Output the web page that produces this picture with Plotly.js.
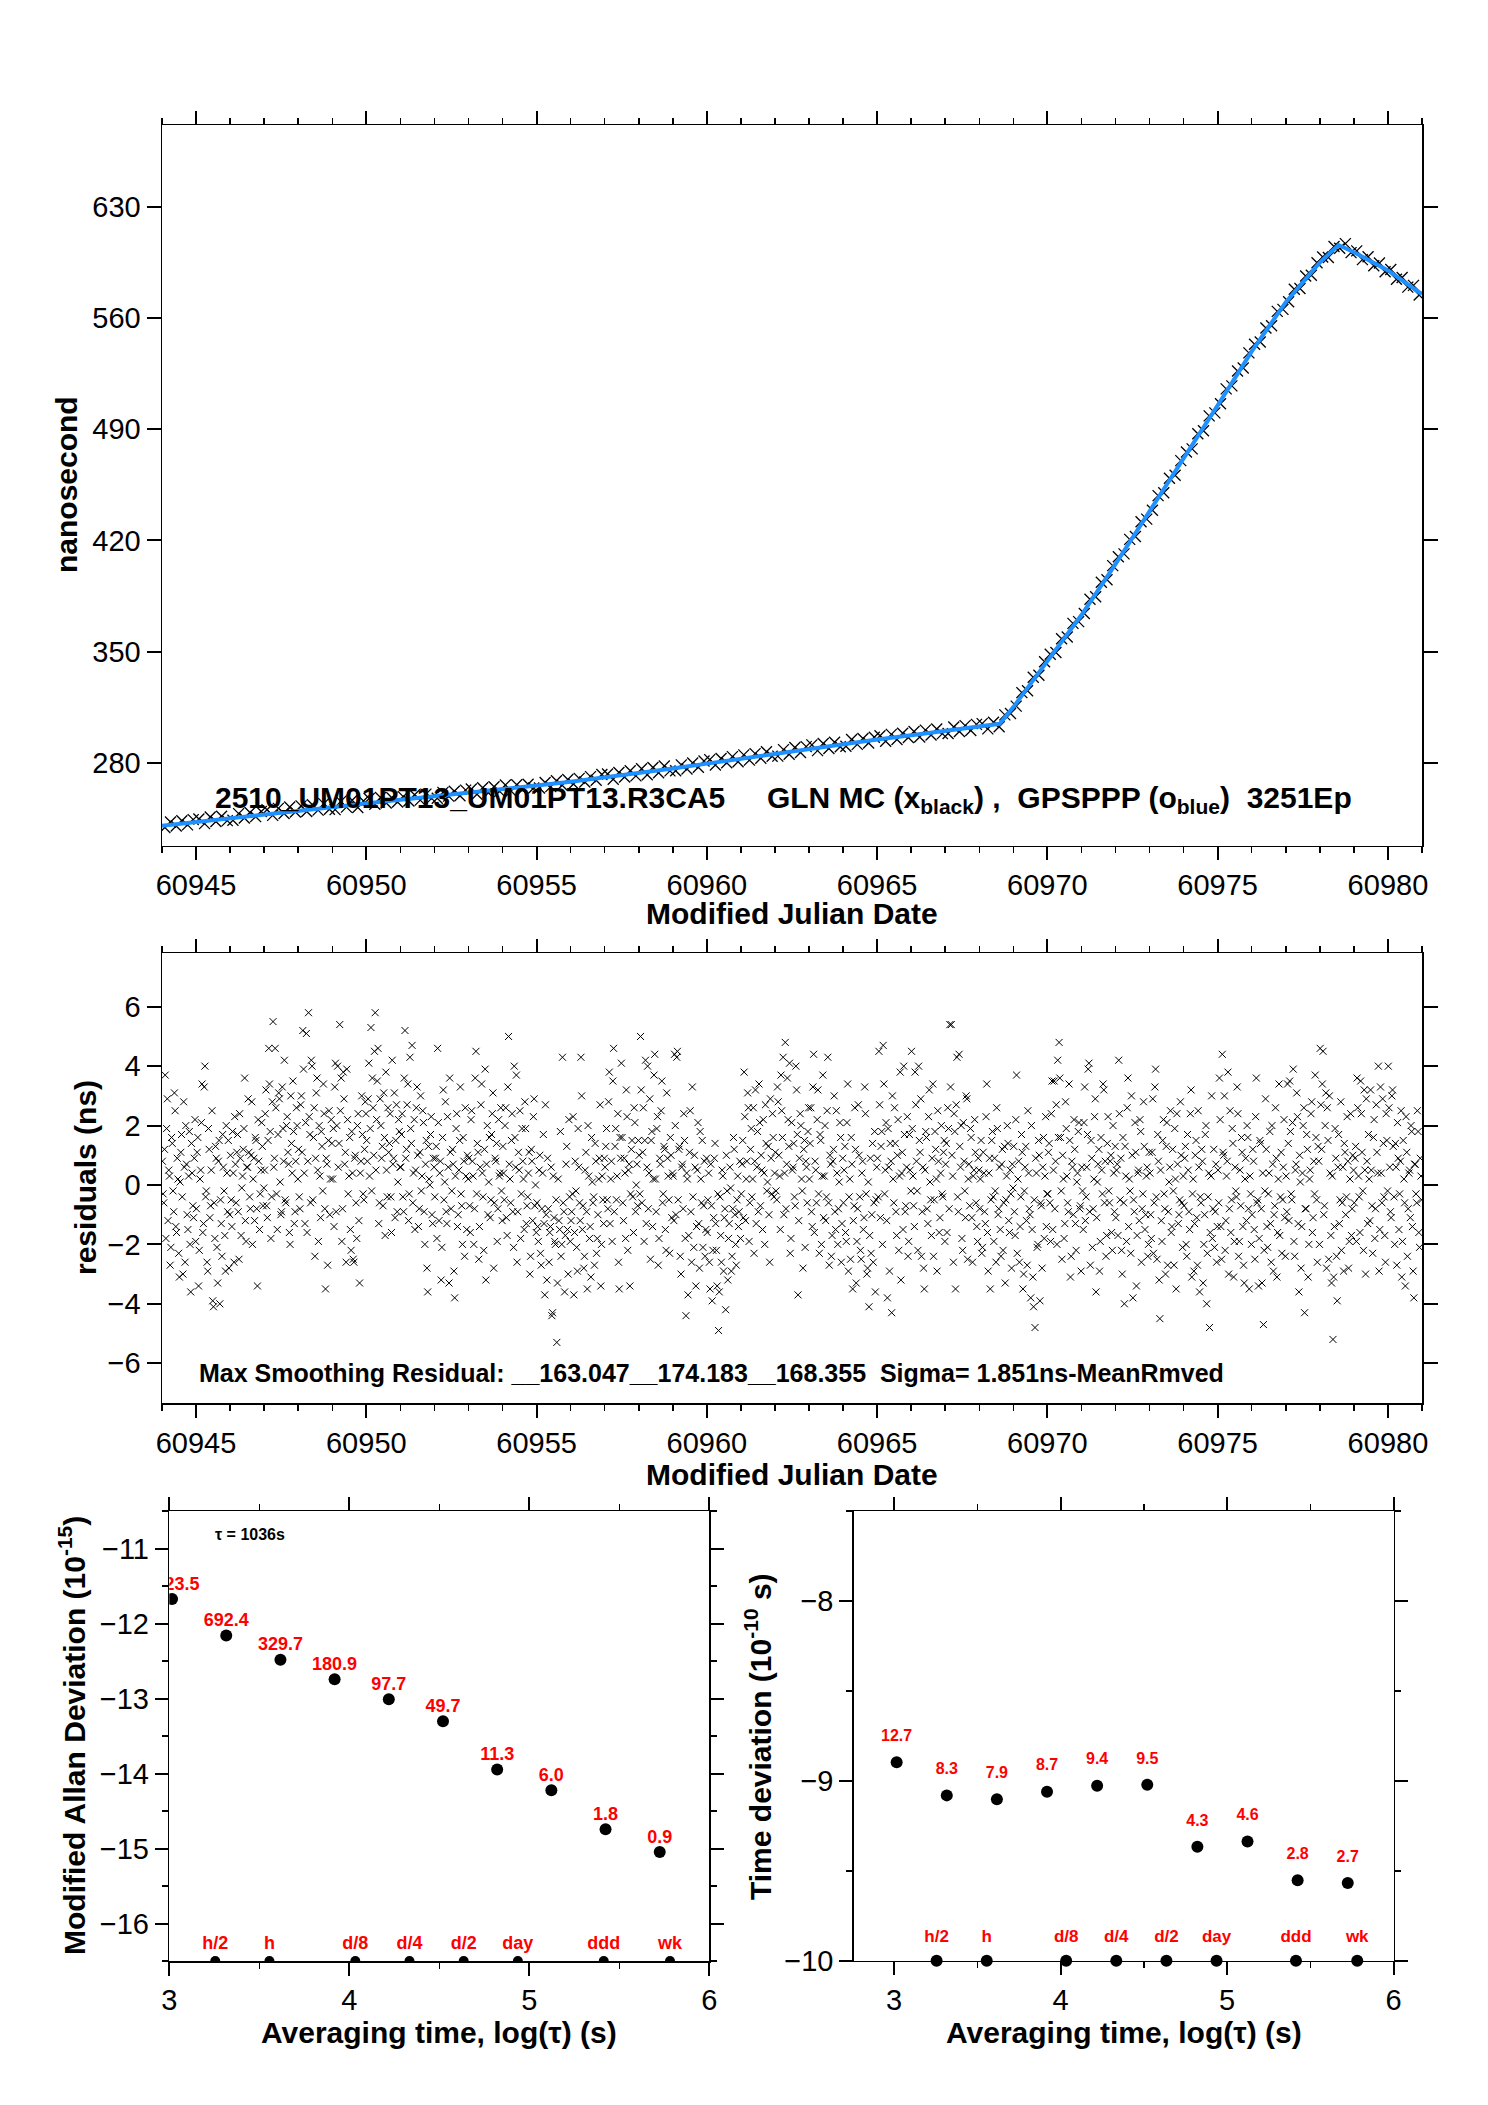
<!DOCTYPE html>
<html><head><meta charset="utf-8">
<script src="https://cdn.plot.ly/plotly-3.0.1.min.js"></script>
<style>html,body{margin:0;padding:0;background:#fff}</style>
</head><body>
<div id="plot" style="width:1488px;height:2105px"></div>
<script>
// ---------------- DATA ----------------
const mjdStart = 60944.0;
const mjdEnd = 60981.0;

// GPSPPP smoothed curve (blue)
const blueMJD = [60944,60945,60946,60947,60948,60949,60950,60951,60952,60953,60954,60955,60956,60957,60958,60959,60960,60961,60962,60963,60964,60965,60966,60967,60968,60968.6,60969,60970,60971,60972,60973,60974,60975,60976,60977,60978,60978.55,60979,60980,60981];
const blueNs = [240.3,242.7,245.2,247.7,250.1,252.3,254.5,256.7,258.9,261.0,263.2,265.6,268.0,270.6,273.3,276.3,279.4,282.5,285.6,288.7,291.8,294.6,297.3,299.9,302.6,304.5,315,344,373,405,438,471,505,539,570,595,606,601.5,590,575];

// GLN MC measurements (black x), regularly sampled, 6 per day
const topNs = [
239.2,242.6,240.1,243.4,240.8,244.1,
244.5,241.6,245.8,242.9,246.2,243.5,
243.7,247.9,245.1,248.6,246.0,249.2,
250.3,246.8,251.2,248.0,252.1,248.9,
252.8,249.2,253.5,250.1,254.2,250.7,
250.4,255.6,252.0,256.3,251.8,255.9,
257.4,253.8,258.1,254.6,257.9,255.2,
258.6,255.9,259.8,256.4,260.2,257.5,
257.6,261.3,258.9,262.0,259.2,262.7,
263.4,260.1,264.2,261.0,264.8,261.9,
265.9,262.2,266.1,262.9,266.4,264.0,
264.0,267.5,264.9,268.6,265.8,269.4,
266.6,270.1,267.8,271.2,268.9,272.5,
272.9,269.6,273.8,271.0,274.9,271.7,
276.2,272.4,277.0,273.6,277.9,274.8,
274.9,278.6,276.0,279.8,277.1,281.0,
281.9,278.5,282.6,279.9,283.8,280.6,
284.9,281.6,285.7,282.8,286.9,284.0,
284.1,288.2,285.3,289.6,286.4,290.1,
291.2,287.6,292.1,288.9,292.8,290.0,
290.3,294.6,291.5,295.2,292.4,296.0,
296.9,293.5,297.8,294.6,298.5,295.8,
299.6,296.2,300.5,297.4,301.2,298.3,
298.4,302.5,299.6,303.3,300.2,304.1,
304.6,301.3,305.5,302.6,310.1,311.0,
315.6,324.1,325.3,333.8,335.0,343.5,
348.3,349.4,358.0,359.1,367.7,368.8,
373.9,382.9,384.5,393.6,395.2,404.1,
409.7,411.5,420.6,422.4,431.7,433.4,
439.0,448.2,450.0,459.1,461.0,470.2,
475.7,477.6,487.1,489.0,498.4,500.3,
506.0,515.4,517.3,526.7,528.6,538.1,
543.5,544.9,553.8,555.2,564.2,565.5,
570.3,578.2,578.6,586.5,587.0,594.8,
598.5,598.2,605.1,604.0,606.9,601.2,
602.3,596.8,598.6,593.0,594.7,589.2,
590.6,584.5,585.6,579.5,580.6,574.5
];

// residuals (ns), first half-hour set, 24 per day
const residA = [
0.8,-0.6,3.7,1.9,-1.2,0.3,-2.1,1.4,-0.9,2.5,-1.6,0.2,-3.1,1.1,-0.4,2.8,-2.6,0.7,-1.5,1.8,-3.6,0.4,-1.1,2.2,
-0.8,1.6,-2.2,0.5,3.4,-1.3,4.0,-0.2,-2.9,1.2,-0.7,2.5,-4.1,-1.8,0.9,-3.3,1.5,-0.5,-2.4,0.6,-1.7,2.0,-0.9,-2.8,
1.0,-1.4,0.4,2.3,-0.6,1.7,-2.5,0.9,-0.1,1.2,3.6,-1.9,0.6,1.1,-0.8,2.8,0.2,-1.2,1.5,-3.4,0.8,-0.3,2.1,-0.7,
0.5,3.2,-1.1,4.6,1.8,-0.4,5.5,0.9,2.6,-1.5,3.1,0.1,-0.9,1.9,4.2,-0.6,2.3,0.7,-2.0,1.4,3.5,-1.3,0.8,2.0,
1.2,-0.8,3.0,5.2,0.4,2.1,-1.6,5.8,1.7,4.2,-0.5,2.6,0.9,3.6,-1.9,0.3,1.8,-0.2,2.4,-3.5,0.7,1.5,-1.0,2.2,
0.2,-1.4,4.1,2.0,0.6,5.4,3.6,-0.8,2.9,1.1,3.9,-0.3,1.6,-2.2,0.4,-2.6,1.0,-1.8,2.4,-3.3,0.8,1.7,-0.5,2.8,
1.5,2.9,0.3,5.3,3.6,1.0,5.8,2.2,4.6,-0.6,2.0,1.3,3.1,-1.7,0.5,2.6,1.4,-0.4,4.2,0.9,-1.1,2.7,0.1,1.8,
0.6,2.4,-0.9,5.2,1.2,3.4,-0.3,1.9,4.7,0.4,-1.5,2.6,1.0,-0.8,3.0,0.3,2.1,-2.0,1.5,-3.6,0.2,1.7,-1.0,0.9,
-0.4,1.3,4.6,-1.2,0.8,-2.1,3.2,0.1,-0.9,2.3,-3.3,1.1,-0.2,0.7,-3.8,1.9,-1.4,0.5,3.3,-0.7,1.6,-2.4,0.3,1.0,
0.9,-1.6,2.5,0.3,-0.8,4.5,1.4,-2.5,0.6,3.4,-0.4,1.2,-3.2,2.0,0.1,-1.1,1.7,3.1,-0.6,0.8,-1.9,2.2,0.4,-0.2,
1.3,-0.5,2.6,-1.7,5.0,0.2,1.5,-0.9,4.0,0.6,-2.6,1.1,2.5,-0.3,0.8,-1.5,1.9,-0.7,0.4,-3.0,1.2,-1.2,2.9,0.0,
-0.6,-1.9,1.0,-2.7,0.4,-1.3,2.7,-3.2,-0.8,-1.6,0.6,-4.3,-1.1,-2.0,-5.3,0.2,-1.5,-2.4,4.3,-0.9,-1.7,1.3,-3.0,-0.4,
-1.2,-0.3,-3.7,0.8,-2.1,1.9,-0.6,4.3,-1.5,-2.8,0.5,-0.9,2.0,-1.8,-3.1,0.1,-0.4,1.4,-2.3,-1.0,0.9,-3.4,0.3,-1.3,
0.6,1.9,-0.8,3.8,0.2,-1.9,4.6,1.3,-0.5,2.4,-3.5,0.9,1.6,-1.2,0.4,3.2,-2.2,0.7,-0.3,1.5,-1.6,2.1,0.0,-0.7,
1.0,5.0,-0.6,2.6,1.5,-1.3,4.0,0.4,-2.5,1.8,0.2,4.4,-0.9,2.3,-1.8,0.7,3.5,-0.3,1.2,-2.2,0.9,-0.5,1.6,-1.1,
0.3,4.4,-1.0,4.5,1.2,-2.4,0.6,-0.8,1.5,-4.4,0.2,-1.7,2.5,-2.6,-0.4,1.0,-3.4,0.5,-1.3,1.8,-0.6,-2.1,0.8,-1.5,
-1.6,0.4,-3.5,-0.7,-2.2,0.9,-1.3,-3.4,-4.9,-0.4,-2.6,0.3,-1.1,-4.2,-0.2,-1.8,0.6,-2.9,-0.8,1.2,-2.0,-0.5,-1.4,0.8,
-0.3,1.5,3.8,-1.2,0.8,2.6,-0.6,1.9,0.2,-2.3,3.2,0.6,-0.9,2.1,1.0,-1.5,0.4,2.7,-0.2,1.3,-2.6,0.9,2.4,-0.4,
1.1,-0.5,2.8,0.3,3.7,1.6,-1.0,4.8,0.7,2.2,4.1,-1.8,0.5,1.4,-0.7,3.2,-3.7,0.9,2.0,-0.2,1.2,-2.1,0.6,1.8,
0.2,2.6,-1.4,4.4,0.8,-0.6,3.2,-2.3,1.5,0.3,-1.1,2.0,-0.4,4.3,-2.7,0.7,-1.7,1.2,-0.9,2.5,-2.0,0.1,1.6,-1.3,
-0.6,1.3,-1.9,3.4,-0.4,-2.5,0.7,-1.2,2.6,-3.3,-0.8,1.0,-2.2,0.4,-1.5,3.3,-0.3,-2.8,-4.1,0.9,-1.0,-2.6,1.8,-0.5,
0.9,4.5,-1.1,1.8,4.7,-0.3,2.1,-3.8,0.6,1.4,-4.3,0.2,2.6,-0.9,1.0,-2.2,3.8,0.4,-1.5,1.7,-0.7,2.3,-1.9,0.5,
4.5,0.3,-1.4,2.7,-0.2,4.0,1.1,-2.4,0.6,-3.5,1.8,-0.8,2.3,0.1,-1.7,3.4,-0.5,1.2,-2.9,0.8,-1.1,2.0,-0.4,1.5,
0.7,-1.6,1.9,5.4,5.4,0.3,2.4,-3.5,4.3,-0.9,1.3,2.0,-2.2,0.8,-1.1,2.9,0.2,-0.7,1.6,-2.6,0.5,1.1,-1.4,0.9,
-0.8,1.5,-2.1,0.4,-1.3,3.4,-2.9,0.9,-0.5,1.8,-1.9,-0.2,2.6,-1.0,0.6,-2.4,1.2,-0.6,-3.3,0.3,1.4,-1.6,-0.3,0.7,
1.3,-1.7,3.7,0.2,-2.6,-0.4,1.1,-3.0,0.6,-1.2,2.5,-0.8,-3.8,-1.5,-4.1,-4.8,0.4,-2.0,1.0,-0.6,-2.8,1.6,0.3,-1.4,
-0.3,1.4,-1.9,3.5,0.5,-0.8,2.7,4.2,4.8,1.6,-2.5,0.2,-1.3,1.9,-0.6,3.4,-3.1,0.8,-1.0,1.2,-2.2,0.4,2.1,-0.7,
0.6,-1.5,3.3,-0.4,1.7,4.1,-2.7,0.9,-0.8,2.3,-3.6,0.1,1.2,-1.9,0.5,3.4,-0.6,-2.4,1.4,-0.2,0.8,-1.6,2.0,-0.9,
-1.1,0.7,4.2,-0.5,-2.2,1.6,-4.0,0.3,2.6,-1.4,-0.2,3.0,-3.8,-0.9,1.1,-1.7,0.5,2.2,-2.6,-0.3,1.3,-1.0,0.6,-2.0,
0.4,-1.8,2.9,-0.6,3.9,-2.5,0.8,-4.5,-1.2,1.5,-0.3,-3.0,2.1,-0.9,0.6,-1.6,1.2,-2.7,0.2,2.4,-1.3,-0.5,1.0,-2.1,
-0.7,1.3,-2.4,0.5,-1.5,3.2,-0.3,-2.9,1.0,-1.1,2.5,-3.6,-0.6,0.8,-2.0,1.7,-4.0,-0.4,-4.8,0.3,-1.8,1.2,-0.9,-2.6,
0.5,3.6,-1.4,4.4,1.0,-2.2,0.3,3.8,-0.8,-1.6,1.9,-3.1,0.6,-0.4,2.4,-1.9,-0.7,1.1,-2.7,0.2,-1.2,1.6,-3.5,-0.3,
-1.0,0.8,-2.5,3.6,-0.5,-1.8,1.4,-3.3,-4.7,-0.2,1.2,-2.1,0.4,-1.3,2.0,-2.9,-0.7,0.9,-1.6,3.4,-0.4,-2.3,0.6,-1.1,
0.3,3.4,-1.2,1.8,-0.5,3.9,-2.4,0.7,2.3,-3.6,0.1,-1.4,2.0,-4.3,-0.8,1.2,-2.0,0.5,2.8,-1.1,-0.3,1.6,-2.6,0.8,
4.6,1.2,4.5,-0.7,3.1,2.6,-2.5,0.4,-3.3,-5.2,-1.4,0.9,-3.9,1.7,-0.5,-2.2,0.6,1.4,-1.0,2.3,-2.8,0.2,-1.7,1.0,
-0.6,1.3,3.6,0.3,-1.6,2.4,-0.2,3.2,-3.0,0.8,1.7,-1.2,0.5,-2.3,2.2,-0.8,1.1,4.0,-1.5,0.4,2.9,-0.4,-2.6,1.5,
4.0,0.6,-1.1,3.2,-0.4,1.4,-2.7,0.9,-0.3,2.5,-1.9,0.2,-3.4,1.1,-0.8,0.5,2.0,-1.4,-3.8,0.7,-0.6,1.8,-2.1,0.3
];

// residuals (ns), second half-hour set, 24 per day
const residB = [
-0.3,1.2,-1.8,2.9,0.5,-2.7,1.6,-0.2,3.1,-1.4,0.9,-2.3,0.1,1.7,-3.0,0.6,2.0,-1.0,0.3,-2.0,1.4,-0.7,0.9,-1.9,
1.1,-3.4,0.2,2.1,-1.6,3.3,-0.4,-2.6,1.9,-1.1,0.5,-3.9,-0.6,1.3,-2.1,0.8,-4.0,-1.3,1.7,-0.2,-2.9,0.4,1.5,-1.0,
-0.5,1.8,-2.6,0.7,1.1,-0.9,2.4,-1.7,0.3,1.9,-1.2,0.6,2.9,-0.4,1.0,-2.0,0.9,1.6,-0.8,2.2,-1.5,0.5,1.3,-0.1,
2.4,-0.7,1.5,3.4,-1.8,2.8,0.6,4.6,-0.3,1.7,2.9,-1.0,3.3,0.8,-0.5,2.0,1.1,-1.6,3.0,0.4,1.8,-0.9,2.6,0.2,
-0.4,2.7,1.1,3.9,-1.3,5.1,0.8,2.3,-0.6,4.0,1.6,-2.4,3.1,0.5,2.0,-1.1,1.3,3.4,-0.8,0.9,-2.7,2.5,0.2,1.4,
1.9,3.3,-0.9,4.0,1.4,2.5,-1.9,3.8,0.7,-2.6,2.2,0.3,-1.5,1.8,-2.5,0.9,-0.6,2.0,-1.2,0.4,3.0,-0.3,1.2,2.4,
0.8,4.1,1.9,-0.2,2.6,4.5,0.5,3.5,-1.3,2.9,0.9,-0.7,1.6,3.8,-0.4,1.1,2.4,-1.6,0.7,3.1,1.5,-0.9,2.2,0.6,
1.7,-0.4,3.6,0.9,2.7,-1.2,4.3,1.4,-0.6,2.2,0.5,3.3,-1.4,1.1,-0.2,2.5,-0.9,0.7,-2.8,1.3,0.0,2.3,-1.3,0.6,
0.9,-1.8,2.1,0.4,-3.2,1.6,-0.5,2.8,-1.3,0.6,3.6,-0.8,1.2,-2.9,0.3,2.4,-1.0,1.5,-0.3,-2.0,0.8,2.6,-1.5,0.2,
-0.7,2.2,0.8,-2.0,3.6,-0.3,1.1,-1.4,2.7,0.4,-2.2,3.9,0.7,-1.0,1.6,-0.5,2.4,-2.8,0.9,1.4,-0.8,0.3,2.6,-1.2,
0.4,2.0,-1.1,3.3,0.7,-0.6,2.4,-2.1,1.6,3.7,-0.9,0.5,-1.8,1.9,0.2,2.8,-1.3,-0.4,1.1,-2.4,0.8,2.3,-0.7,-1.6,
-1.4,0.5,-2.3,-0.8,1.7,-3.7,-1.0,0.9,-2.6,-1.4,-4.4,0.3,-1.9,-0.5,-3.3,-1.2,1.8,-2.0,-0.6,-3.6,0.7,-1.5,2.2,-1.9,
-0.9,2.3,-1.6,-0.2,-2.9,0.6,-1.2,3.0,-0.7,-2.4,1.1,-3.5,0.3,-1.4,1.6,-0.6,-2.7,0.8,-1.8,0.2,2.7,-2.0,-0.5,0.9,
1.3,-0.5,2.8,-1.3,0.8,3.5,-0.9,1.9,0.3,-2.6,1.6,4.1,-0.6,0.9,-1.8,2.3,0.5,-3.4,1.2,-0.4,2.6,-0.9,0.7,1.5,
-0.3,3.2,1.1,-1.9,4.2,0.6,-0.8,2.9,1.5,-1.4,3.7,0.2,1.9,-2.7,0.9,2.5,-0.6,1.3,-1.5,3.1,0.3,-2.3,1.0,0.4,
-1.2,2.0,4.3,-0.5,1.3,-3.0,0.7,2.4,-1.8,0.4,-3.7,1.1,-0.9,3.3,-2.1,0.6,-1.4,2.1,-2.8,0.2,1.5,-0.7,-2.4,0.9,
-0.5,-2.6,0.7,-3.9,-1.1,1.4,-2.2,-0.3,-3.6,-1.7,0.5,-2.9,-0.8,1.0,-3.2,-1.3,-0.1,-2.4,1.6,-1.0,-2.7,0.3,-0.9,-1.8,
0.7,-1.1,2.3,0.2,3.1,-1.9,1.2,-0.4,2.6,0.8,-1.3,1.8,3.4,-0.7,0.5,2.2,-2.0,1.4,0.1,-1.0,2.9,-0.3,1.6,0.4,
-0.2,3.3,1.0,-1.5,2.5,4.3,0.4,-0.8,3.6,1.3,-2.3,2.1,0.6,-0.4,4.0,1.7,-1.2,2.4,0.2,-2.8,1.5,0.8,-0.6,2.6,
1.4,-0.9,3.3,-1.6,0.5,2.2,-0.3,1.7,-2.0,3.7,0.3,-1.2,2.5,-0.6,1.0,-2.4,0.8,3.0,-1.5,0.4,-0.8,2.1,-2.6,0.9,
0.5,-1.6,2.1,-2.9,0.2,1.6,-3.5,-0.7,1.2,-1.9,2.7,-0.4,-2.5,0.8,-1.1,2.4,-3.0,0.1,-1.7,-2.3,1.4,-0.6,-3.6,0.6,
-0.4,2.7,1.3,-2.0,3.4,0.5,-1.2,1.9,-2.9,0.8,3.0,-0.6,1.4,-1.7,2.2,0.3,-3.2,1.1,4.0,-0.9,0.6,-2.4,1.7,-0.2,
1.9,-0.7,3.8,0.8,-2.2,1.5,2.9,-0.9,-2.8,0.5,1.6,-1.3,3.2,-0.5,0.9,-2.4,1.8,0.2,2.5,-1.6,0.4,-0.3,1.1,-1.9,
1.4,2.6,-0.8,3.3,1.0,-2.6,1.8,2.7,-0.4,4.4,0.6,-1.8,2.1,-0.2,3.0,-2.5,0.7,1.9,-1.1,0.3,2.2,-0.6,-1.9,0.5,
0.2,-2.3,1.1,-0.9,2.3,-1.6,0.4,-3.5,1.5,-0.4,0.9,-2.6,1.9,-0.8,-1.5,0.7,-2.2,1.3,-0.5,2.0,-1.2,0.5,-2.8,-0.1,
-0.9,2.2,-2.3,0.8,-1.4,1.7,-3.5,-0.2,1.3,-2.7,0.4,-1.0,2.0,-3.1,-0.5,0.9,-2.1,1.5,-3.9,-0.7,0.6,-1.8,2.3,-0.3,
1.1,-0.6,2.4,-1.5,3.5,0.8,-2.0,1.6,3.6,-0.2,1.0,-1.8,2.8,0.3,-0.9,1.5,-2.4,0.6,2.2,-1.3,0.1,1.8,-0.8,-2.9,
-0.2,2.1,-1.2,0.6,3.9,-0.9,1.5,-2.1,0.2,2.9,-1.1,0.7,-2.9,1.6,-0.3,3.2,0.8,-1.7,2.3,-0.6,1.0,-2.2,0.4,1.3,
0.5,-1.7,2.4,0.9,-3.0,-0.6,1.3,-1.9,3.6,0.2,-2.3,1.0,-0.5,2.1,-3.4,0.4,-1.2,1.8,-0.8,2.8,-1.5,0.3,-2.4,1.1,
-1.0,1.1,-2.3,3.3,-0.4,1.7,-3.2,0.5,-1.9,2.2,-0.8,1.3,-2.7,0.1,2.5,-1.4,-0.2,1.9,-3.5,0.7,-1.0,2.8,-0.6,0.3,
0.9,-2.0,1.7,-0.9,2.4,-3.1,0.2,-1.3,1.5,-2.7,0.6,-0.4,1.2,-3.3,-1.0,2.0,-2.3,0.4,-1.6,3.0,-0.8,-2.1,0.7,-1.4,
-0.6,2.2,-2.5,1.1,3.0,-1.2,0.8,-3.0,2.5,-0.5,1.4,-1.9,-0.2,3.3,-2.4,0.5,1.6,-1.4,-3.3,0.9,2.0,-0.8,0.3,-2.0,
1.2,-1.5,2.3,-0.6,-3.4,1.5,-0.8,0.4,-2.2,2.9,-1.4,-0.3,1.8,-2.6,0.7,-1.0,2.6,-3.1,0.2,-1.7,1.1,-0.5,2.2,-2.4,
-0.9,1.4,3.5,-0.3,2.1,-1.9,0.5,3.1,-1.3,1.0,-2.8,0.4,2.6,-0.8,1.7,-3.1,0.2,2.4,-1.6,0.8,3.7,-0.5,1.3,-2.0,
2.7,3.4,-1.0,2.0,-2.8,1.5,3.0,-1.7,0.3,-3.1,1.9,-2.4,0.6,-1.3,2.8,-0.6,-2.9,1.1,-0.4,0.8,-1.9,2.4,-0.8,0.5,
0.9,-1.9,2.6,-0.4,3.5,1.1,-2.2,0.5,2.9,-1.3,0.2,3.2,-0.7,1.6,-1.8,2.7,0.4,-2.9,3.3,-0.6,1.4,-1.7,2.4,-0.2,
2.6,-0.9,3.0,1.3,-2.0,0.6,2.1,-1.5,0.8,-3.1,1.5,-0.6,2.3,-2.4,0.4,-1.1,1.8,-2.9,0.7,-0.3,2.5,-1.6,0.9,-0.5
];

// stability analysis
const avgTimes = [1036,2072,4144,8288,16576,33152,66304,132608,265216,530432];
const madevVals = [2123.5,692.4,329.7,180.9,97.7,49.7,11.3,6.0,1.8,0.9];   // x 1e-15
const tdevVals  = [12.7,8.3,7.9,8.7,9.4,9.5,4.3,4.6,2.8,2.7];              // x 1e-10 s
const madevLabels = ['2123.5','692.4','329.7','180.9','97.7','49.7','11.3','6.0','1.8','0.9'];
const tdevLabels  = ['12.7','8.3','7.9','8.7','9.4','9.5','4.3','4.6','2.8','2.7'];
const tagNames = ['h/2','h','d/8','d/4','d/2','day','ddd','wk'];
const tagSec   = [1800,3600,10800,21600,43200,86400,259200,604800];

// ---------------- DRAWING ----------------
const W = 1488, H = 2105;
const FONT = 'Liberation Sans, Arial, Helvetica, sans-serif';
const px = x => x / W, py = y => 1 - y / H;

const dtA = (mjdEnd - mjdStart) / residA.length;
const dtB = (mjdEnd - mjdStart) / residB.length;
const resX = residA.map((_, i) => mjdStart + (i + 0.25) * dtA).concat(residB.map((_, i) => mjdStart + (i + 0.75) * dtB));
const resY = residA.concat(residB);
const topX = topNs.map((_, i) => mjdStart + (i + 0.5) * (mjdEnd - mjdStart) / topNs.length);
const logTau = avgTimes.map(t => Math.log10(t));
const madevY = madevVals.map(v => Math.log10(v) - 15);
const tdevY = tdevVals.map(v => Math.log10(v) - 10);
const tagX = tagSec.map(t => Math.log10(t));

const xMark = (size, w) => ({symbol: 'x-thin', size: size, color: '#000', line: {width: w, color: '#000'}});
const redFont = s => ({family: FONT, size: s, color: '#ff0000', weight: 'bold'});

const traces = [
  {type: 'scatter', mode: 'markers', x: topX, y: topNs, xaxis: 'x', yaxis: 'y', marker: xMark(11, 1.3), hoverinfo: 'skip'},
  {type: 'scatter', mode: 'lines', x: blueMJD, y: blueNs, xaxis: 'x', yaxis: 'y', line: {color: '#1e90ff', width: 4}, hoverinfo: 'skip'},
  {type: 'scatter', mode: 'markers', x: resX, y: resY, xaxis: 'x2', yaxis: 'y2', marker: xMark(7, 1), hoverinfo: 'skip'},
  // MDEV
  {type: 'scatter', mode: 'markers', x: logTau, y: madevY, xaxis: 'x3', yaxis: 'y3', marker: {size: 12, color: '#000'}, cliponaxis: true},
  {type: 'scatter', mode: 'markers+text', x: logTau, y: madevY, xaxis: 'x3', yaxis: 'y3', text: madevLabels, textposition: 'top center',
   textfont: redFont(18), marker: {size: 6, color: 'rgba(0,0,0,0)'}, cliponaxis: true},
  {type: 'scatter', mode: 'markers+text', x: tagX, y: tagX.map(() => -16.5), xaxis: 'x3', yaxis: 'y3', text: tagNames, textposition: 'top center',
   textfont: redFont(18), marker: {size: 10, color: '#000'}, cliponaxis: true},
  // TDEV
  {type: 'scatter', mode: 'markers', x: logTau, y: tdevY, xaxis: 'x4', yaxis: 'y4', marker: {size: 12, color: '#000'}, cliponaxis: false},
  {type: 'scatter', mode: 'markers+text', x: logTau, y: tdevY, xaxis: 'x4', yaxis: 'y4', text: tdevLabels, textposition: 'top center',
   textfont: redFont(16), marker: {size: 26, color: 'rgba(0,0,0,0)'}, cliponaxis: false},
  {type: 'scatter', mode: 'markers', x: tagX, y: tagX.map(() => -10), xaxis: 'x4', yaxis: 'y4', marker: {size: 12, color: '#000'}, cliponaxis: false},
  {type: 'scatter', mode: 'markers+text', x: tagX, y: tagX.map(() => -10), xaxis: 'x4', yaxis: 'y4', text: tagNames, textposition: 'top center',
   textfont: redFont(17), marker: {size: 22, color: 'rgba(0,0,0,0)'}, cliponaxis: false}
];

function axis(domain, range, tick0, dtick, minor, anchor, extra) {
  const a = {
    domain: domain, range: range, anchor: anchor, tickmode: 'linear', tick0: tick0, dtick: dtick,
    ticks: 'outside', ticklen: 13, tickwidth: 2, tickcolor: '#000',
    showline: true, linewidth: 1.5, linecolor: '#000', mirror: 'ticks',
    showgrid: false, zeroline: false, fixedrange: true,
    tickfont: {family: FONT, size: 29, color: '#000'}
  };
  if (minor) a.minor = {ticks: 'outside', ticklen: 6, tickwidth: 1.5, tickcolor: '#000', tick0: minor[0], dtick: minor[1], showgrid: false};
  return Object.assign(a, extra || {});
}

const xTop = [px(162), px(1422)];
const layout = {
  width: W, height: H, margin: {l: 0, r: 0, t: 0, b: 0},
  paper_bgcolor: '#fff', plot_bgcolor: '#fff', showlegend: false, hovermode: false,
  font: {family: FONT, color: '#000'},
  xaxis:  axis(xTop, [mjdStart, mjdEnd], 60945, 5, [60944, 1], 'y', {tickformat: 'd'}),
  yaxis:  axis([py(845.7), py(125)], [227.7, 681.6], 280, 70, null, 'x', {ticklen: 14}),
  xaxis2: axis(xTop, [mjdStart, mjdEnd], 60945, 5, [60944, 1], 'y2', {tickformat: 'd'}),
  yaxis2: axis([py(1403.3), py(953.3)], [-7.35, 7.8], 0, 2, null, 'x2', {ticklen: 14}),
  xaxis3: axis([px(169.3), px(709.3)], [3, 6], 3, 1, [3, 0.5], 'y3'),
  yaxis3: axis([py(1961), py(1511)], [-16.5, -10.5], -11, 1, [-11, 0.5], 'x3'),
  xaxis4: axis([px(853.8), px(1393.6)], [2.758, 6], 3, 1, [3, 0.5], 'y4'),
  yaxis4: axis([py(1960.7), py(1511)], [-10, -7.5], -10, 1, [-10, 0.5], 'x4'),
  annotations: [
    {xref: 'paper', yref: 'paper', x: px(213), y: py(799), xanchor: 'left', yanchor: 'middle', showarrow: false,
     text: '<b>2510_UM01PT13_UM01PT13.R3CA5\u00a0\u00a0\u00a0\u00a0\u00a0GLN MC (x<sub>black</sub>) ,\u00a0\u00a0GPSPPP (o<sub>blue</sub>)\u00a0\u00a03251Ep</b>',
     font: {family: FONT, size: 30, color: '#000'}},
    {xref: 'paper', yref: 'paper', x: px(197), y: py(1373), xanchor: 'left', yanchor: 'middle', showarrow: false,
     text: '<b>Max Smoothing Residual: __163.047__174.183__168.355\u00a0\u00a0Sigma= 1.851ns-MeanRmved</b>',
     font: {family: FONT, size: 25, color: '#000'}},
    {xref: 'paper', yref: 'paper', x: px(213), y: py(1534), xanchor: 'left', yanchor: 'middle', showarrow: false,
     text: '<b>τ = 1036s</b>', font: {family: FONT, size: 16, color: '#000'}},
    {xref: 'paper', yref: 'paper', x: px(792), y: py(913), xanchor: 'center', yanchor: 'middle', showarrow: false,
     text: '<b>Modified Julian Date</b>', font: {family: FONT, size: 30, color: '#000'}},
    {xref: 'paper', yref: 'paper', x: px(792), y: py(1474), xanchor: 'center', yanchor: 'middle', showarrow: false,
     text: '<b>Modified Julian Date</b>', font: {family: FONT, size: 30, color: '#000'}},
    {xref: 'paper', yref: 'paper', x: px(66), y: py(485), xanchor: 'center', yanchor: 'middle', showarrow: false, textangle: -90,
     text: '<b>nanosecond</b>', font: {family: FONT, size: 30, color: '#000'}},
    {xref: 'paper', yref: 'paper', x: px(85), y: py(1178), xanchor: 'center', yanchor: 'middle', showarrow: false, textangle: -90,
     text: '<b>residuals (ns)</b>', font: {family: FONT, size: 30, color: '#000'}},
    {xref: 'paper', yref: 'paper', x: px(72), y: py(1736), xanchor: 'center', yanchor: 'middle', showarrow: false, textangle: -90,
     text: '<b>Modified Allan Deviation (10<sup>-15</sup>)</b>', font: {family: FONT, size: 30, color: '#000'}},
    {xref: 'paper', yref: 'paper', x: px(758), y: py(1737), xanchor: 'center', yanchor: 'middle', showarrow: false, textangle: -90,
     text: '<b>Time deviation (10<sup>-10</sup> s)</b>', font: {family: FONT, size: 30, color: '#000'}},
    {xref: 'paper', yref: 'paper', x: px(439), y: py(2032), xanchor: 'center', yanchor: 'middle', showarrow: false,
     text: '<b>Averaging time, log(τ) (s)</b>', font: {family: FONT, size: 30, color: '#000'}},
    {xref: 'paper', yref: 'paper', x: px(1124), y: py(2032), xanchor: 'center', yanchor: 'middle', showarrow: false,
     text: '<b>Averaging time, log(τ) (s)</b>', font: {family: FONT, size: 30, color: '#000'}}
  ]
};

Plotly.newPlot('plot', traces, layout, {staticPlot: true, displayModeBar: false});
</script>
</body></html>
